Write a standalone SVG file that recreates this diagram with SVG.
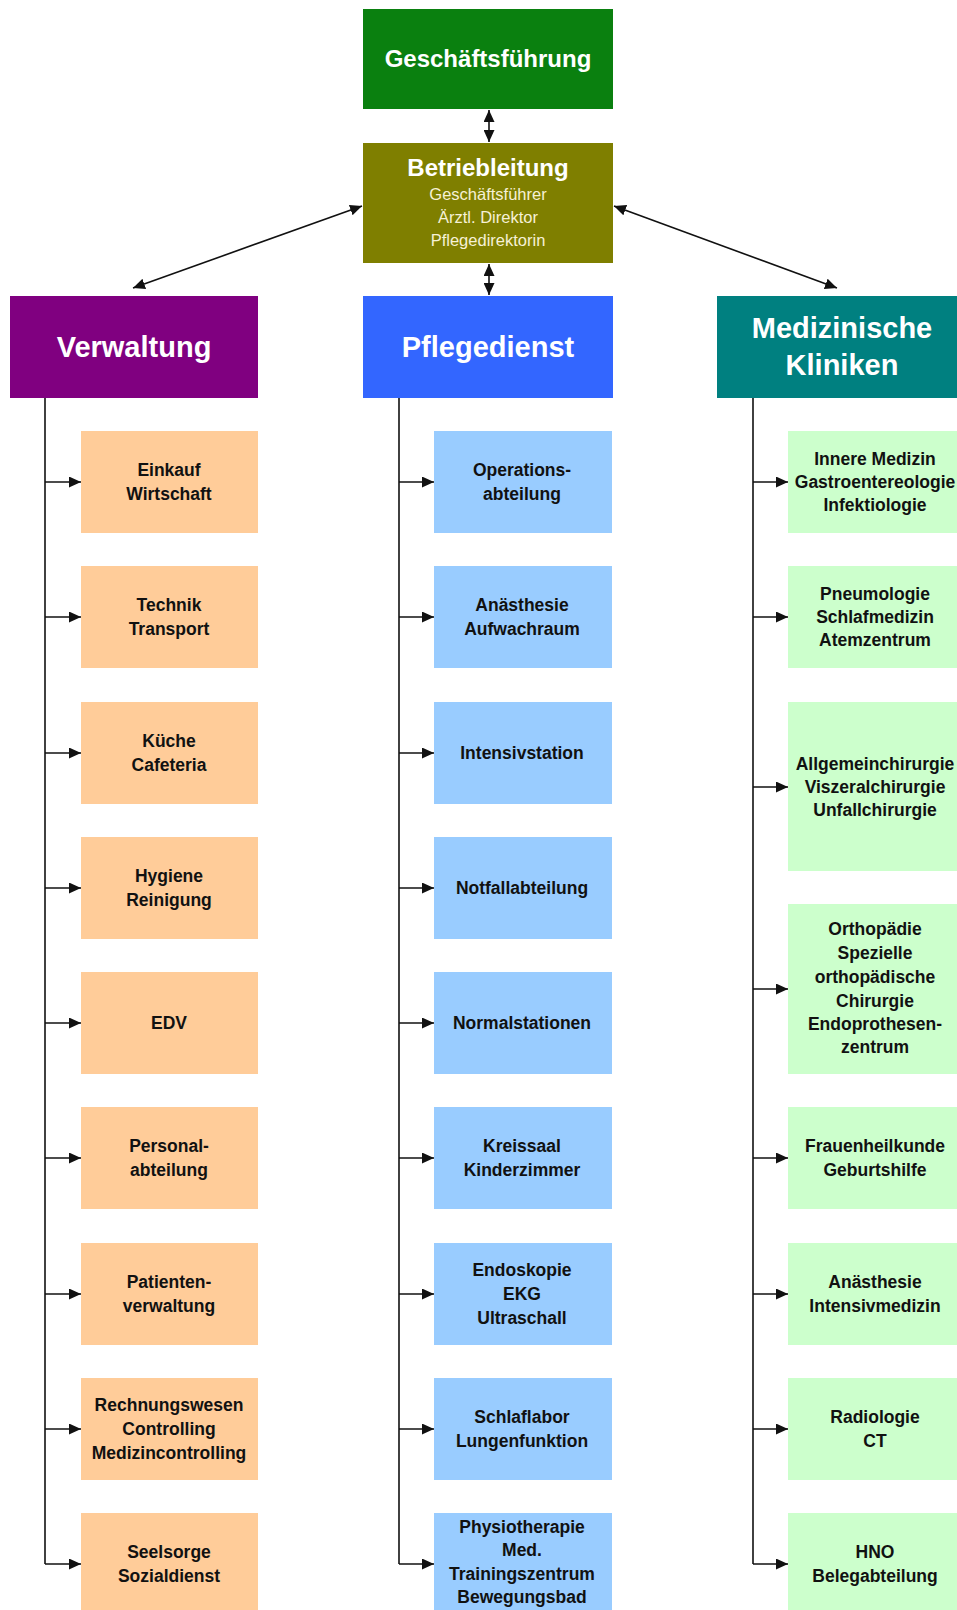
<svg xmlns="http://www.w3.org/2000/svg" width="957" height="1610" viewBox="0 0 957 1610">
<style>
.hd{font-family:"Liberation Sans",Arial,sans-serif;font-weight:bold;fill:#ffffff;text-anchor:middle}
.sub{font-family:"Liberation Sans",Arial,sans-serif;font-size:16.5px;fill:#f6f1d6;text-anchor:middle}
.ch{font-family:"Liberation Sans",Arial,sans-serif;font-weight:bold;font-size:17.5px;fill:#111111;text-anchor:middle}
.c1{fill:#ffcc99}
.c2{fill:#99ccff}
.c3{fill:#ccffcc}
.ln{stroke:#111111;stroke-width:1.6;fill:none}
</style>
<defs>
<marker id="ah" markerUnits="userSpaceOnUse" markerWidth="13" markerHeight="11" refX="12" refY="5.5" orient="auto-start-reverse">
<path d="M0,0 L12,5.5 L0,11 z" fill="#111111"/>
</marker>
</defs>
<rect width="957" height="1610" fill="#ffffff"/>

<g id="connectors">
<line class="ln" x1="489" y1="110" x2="489" y2="142" marker-start="url(#ah)" marker-end="url(#ah)"/>
<line class="ln" x1="489" y1="264" x2="489" y2="295" marker-start="url(#ah)" marker-end="url(#ah)"/>
<line class="ln" x1="362" y1="206" x2="133" y2="288" marker-start="url(#ah)" marker-end="url(#ah)"/>
<line class="ln" x1="614" y1="206" x2="837" y2="288" marker-start="url(#ah)" marker-end="url(#ah)"/>
<line class="ln" x1="45" y1="398" x2="45" y2="1564"/>
<line class="ln" x1="399" y1="398" x2="399" y2="1564"/>
<line class="ln" x1="753" y1="398" x2="753" y2="1564"/>
<line class="ln" x1="45" y1="482" x2="81" y2="482" marker-end="url(#ah)"/>
<line class="ln" x1="45" y1="617" x2="81" y2="617" marker-end="url(#ah)"/>
<line class="ln" x1="45" y1="753" x2="81" y2="753" marker-end="url(#ah)"/>
<line class="ln" x1="45" y1="888" x2="81" y2="888" marker-end="url(#ah)"/>
<line class="ln" x1="45" y1="1023" x2="81" y2="1023" marker-end="url(#ah)"/>
<line class="ln" x1="45" y1="1158" x2="81" y2="1158" marker-end="url(#ah)"/>
<line class="ln" x1="45" y1="1294" x2="81" y2="1294" marker-end="url(#ah)"/>
<line class="ln" x1="45" y1="1429" x2="81" y2="1429" marker-end="url(#ah)"/>
<line class="ln" x1="45" y1="1564" x2="81" y2="1564" marker-end="url(#ah)"/>
<line class="ln" x1="399" y1="482" x2="434" y2="482" marker-end="url(#ah)"/>
<line class="ln" x1="399" y1="617" x2="434" y2="617" marker-end="url(#ah)"/>
<line class="ln" x1="399" y1="753" x2="434" y2="753" marker-end="url(#ah)"/>
<line class="ln" x1="399" y1="888" x2="434" y2="888" marker-end="url(#ah)"/>
<line class="ln" x1="399" y1="1023" x2="434" y2="1023" marker-end="url(#ah)"/>
<line class="ln" x1="399" y1="1158" x2="434" y2="1158" marker-end="url(#ah)"/>
<line class="ln" x1="399" y1="1294" x2="434" y2="1294" marker-end="url(#ah)"/>
<line class="ln" x1="399" y1="1429" x2="434" y2="1429" marker-end="url(#ah)"/>
<line class="ln" x1="399" y1="1564" x2="434" y2="1564" marker-end="url(#ah)"/>
<line class="ln" x1="753" y1="482" x2="788" y2="482" marker-end="url(#ah)"/>
<line class="ln" x1="753" y1="617" x2="788" y2="617" marker-end="url(#ah)"/>
<line class="ln" x1="753" y1="787" x2="788" y2="787" marker-end="url(#ah)"/>
<line class="ln" x1="753" y1="989" x2="788" y2="989" marker-end="url(#ah)"/>
<line class="ln" x1="753" y1="1158" x2="788" y2="1158" marker-end="url(#ah)"/>
<line class="ln" x1="753" y1="1294" x2="788" y2="1294" marker-end="url(#ah)"/>
<line class="ln" x1="753" y1="1429" x2="788" y2="1429" marker-end="url(#ah)"/>
<line class="ln" x1="753" y1="1564" x2="788" y2="1564" marker-end="url(#ah)"/>
</g>

<g id="geschaeftsfuehrung">
<rect x="363" y="9" width="250" height="100" fill="#0a800f"/>
<text class="hd" x="488" y="67" font-size="24" fill="#f4f8e8">Geschäftsführung</text>
</g>
<g id="betriebleitung">
<rect x="363" y="143" width="250" height="120" fill="#7f7f00"/>
<text class="hd" x="488" y="176" font-size="24">Betriebleitung</text>
<text class="sub" x="488" y="200">Geschäftsführer</text>
<text class="sub" x="488" y="223">Ärztl. Direktor</text>
<text class="sub" x="488" y="246">Pflegedirektorin</text>
</g>
<g id="verwaltung">
<rect x="10" y="296" width="248" height="102" fill="#800080"/>
<text class="hd" x="134" y="357" font-size="29">Verwaltung</text>
</g>
<g id="pflegedienst">
<rect x="363" y="296" width="250" height="102" fill="#3366ff"/>
<text class="hd" x="488" y="357" font-size="29">Pflegedienst</text>
</g>
<g id="medizinische-kliniken">
<rect x="717" y="296" width="250" height="102" fill="#008080"/>
<text class="hd" x="842" y="338" font-size="29">Medizinische</text>
<text class="hd" x="842" y="375" font-size="29">Kliniken</text>
</g>

<g id="v1"><rect class="c1" x="81" y="431" width="177" height="102"/><text class="ch" x="169" y="476">Einkauf</text><text class="ch" x="169" y="500">Wirtschaft</text></g>
<g id="v2"><rect class="c1" x="81" y="566" width="177" height="102"/><text class="ch" x="169" y="611">Technik</text><text class="ch" x="169" y="635">Transport</text></g>
<g id="v3"><rect class="c1" x="81" y="702" width="177" height="102"/><text class="ch" x="169" y="747">Küche</text><text class="ch" x="169" y="771">Cafeteria</text></g>
<g id="v4"><rect class="c1" x="81" y="837" width="177" height="102"/><text class="ch" x="169" y="882">Hygiene</text><text class="ch" x="169" y="906">Reinigung</text></g>
<g id="v5"><rect class="c1" x="81" y="972" width="177" height="102"/><text class="ch" x="169" y="1029">EDV</text></g>
<g id="v6"><rect class="c1" x="81" y="1107" width="177" height="102"/><text class="ch" x="169" y="1152">Personal-</text><text class="ch" x="169" y="1176">abteilung</text></g>
<g id="v7"><rect class="c1" x="81" y="1243" width="177" height="102"/><text class="ch" x="169" y="1288">Patienten-</text><text class="ch" x="169" y="1312">verwaltung</text></g>
<g id="v8"><rect class="c1" x="81" y="1378" width="177" height="102"/><text class="ch" x="169" y="1411">Rechnungswesen</text><text class="ch" x="169" y="1435">Controlling</text><text class="ch" x="169" y="1459">Medizincontrolling</text></g>
<g id="v9"><rect class="c1" x="81" y="1513" width="177" height="102"/><text class="ch" x="169" y="1558">Seelsorge</text><text class="ch" x="169" y="1582">Sozialdienst</text></g>

<g id="p1"><rect class="c2" x="434" y="431" width="178" height="102"/><text class="ch" x="522" y="476">Operations-</text><text class="ch" x="522" y="500">abteilung</text></g>
<g id="p2"><rect class="c2" x="434" y="566" width="178" height="102"/><text class="ch" x="522" y="611">Anästhesie</text><text class="ch" x="522" y="635">Aufwachraum</text></g>
<g id="p3"><rect class="c2" x="434" y="702" width="178" height="102"/><text class="ch" x="522" y="759">Intensivstation</text></g>
<g id="p4"><rect class="c2" x="434" y="837" width="178" height="102"/><text class="ch" x="522" y="894">Notfallabteilung</text></g>
<g id="p5"><rect class="c2" x="434" y="972" width="178" height="102"/><text class="ch" x="522" y="1029">Normalstationen</text></g>
<g id="p6"><rect class="c2" x="434" y="1107" width="178" height="102"/><text class="ch" x="522" y="1152">Kreissaal</text><text class="ch" x="522" y="1176">Kinderzimmer</text></g>
<g id="p7"><rect class="c2" x="434" y="1243" width="178" height="102"/><text class="ch" x="522" y="1276">Endoskopie</text><text class="ch" x="522" y="1300">EKG</text><text class="ch" x="522" y="1324">Ultraschall</text></g>
<g id="p8"><rect class="c2" x="434" y="1378" width="178" height="102"/><text class="ch" x="522" y="1423">Schlaflabor</text><text class="ch" x="522" y="1447">Lungenfunktion</text></g>
<g id="p9"><rect class="c2" x="434" y="1513" width="178" height="102"/><text class="ch" x="522" y="1533">Physiotherapie</text><text class="ch" x="522" y="1556">Med.</text><text class="ch" x="522" y="1580">Trainingszentrum</text><text class="ch" x="522" y="1603">Bewegungsbad</text></g>

<g id="m1"><rect class="c3" x="788" y="431" width="177" height="102"/><text class="ch" x="875" y="465">Innere Medizin</text><text class="ch" x="875" y="488">Gastroentereologie</text><text class="ch" x="875" y="511">Infektiologie</text></g>
<g id="m2"><rect class="c3" x="788" y="566" width="177" height="102"/><text class="ch" x="875" y="600">Pneumologie</text><text class="ch" x="875" y="623">Schlafmedizin</text><text class="ch" x="875" y="646">Atemzentrum</text></g>
<g id="m3"><rect class="c3" x="788" y="702" width="177" height="169"/><text class="ch" x="875" y="770">Allgemeinchirurgie</text><text class="ch" x="875" y="793">Viszeralchirurgie</text><text class="ch" x="875" y="816">Unfallchirurgie</text></g>
<g id="m4"><rect class="c3" x="788" y="904" width="177" height="170"/><text class="ch" x="875" y="935">Orthopädie</text><text class="ch" x="875" y="959">Spezielle</text><text class="ch" x="875" y="983">orthopädische</text><text class="ch" x="875" y="1007">Chirurgie</text><text class="ch" x="875" y="1030">Endoprothesen-</text><text class="ch" x="875" y="1053">zentrum</text></g>
<g id="m5"><rect class="c3" x="788" y="1107" width="177" height="102"/><text class="ch" x="875" y="1152">Frauenheilkunde</text><text class="ch" x="875" y="1176">Geburtshilfe</text></g>
<g id="m6"><rect class="c3" x="788" y="1243" width="177" height="102"/><text class="ch" x="875" y="1288">Anästhesie</text><text class="ch" x="875" y="1312">Intensivmedizin</text></g>
<g id="m7"><rect class="c3" x="788" y="1378" width="177" height="102"/><text class="ch" x="875" y="1423">Radiologie</text><text class="ch" x="875" y="1447">CT</text></g>
<g id="m8"><rect class="c3" x="788" y="1513" width="177" height="102"/><text class="ch" x="875" y="1558">HNO</text><text class="ch" x="875" y="1582">Belegabteilung</text></g>
</svg>
